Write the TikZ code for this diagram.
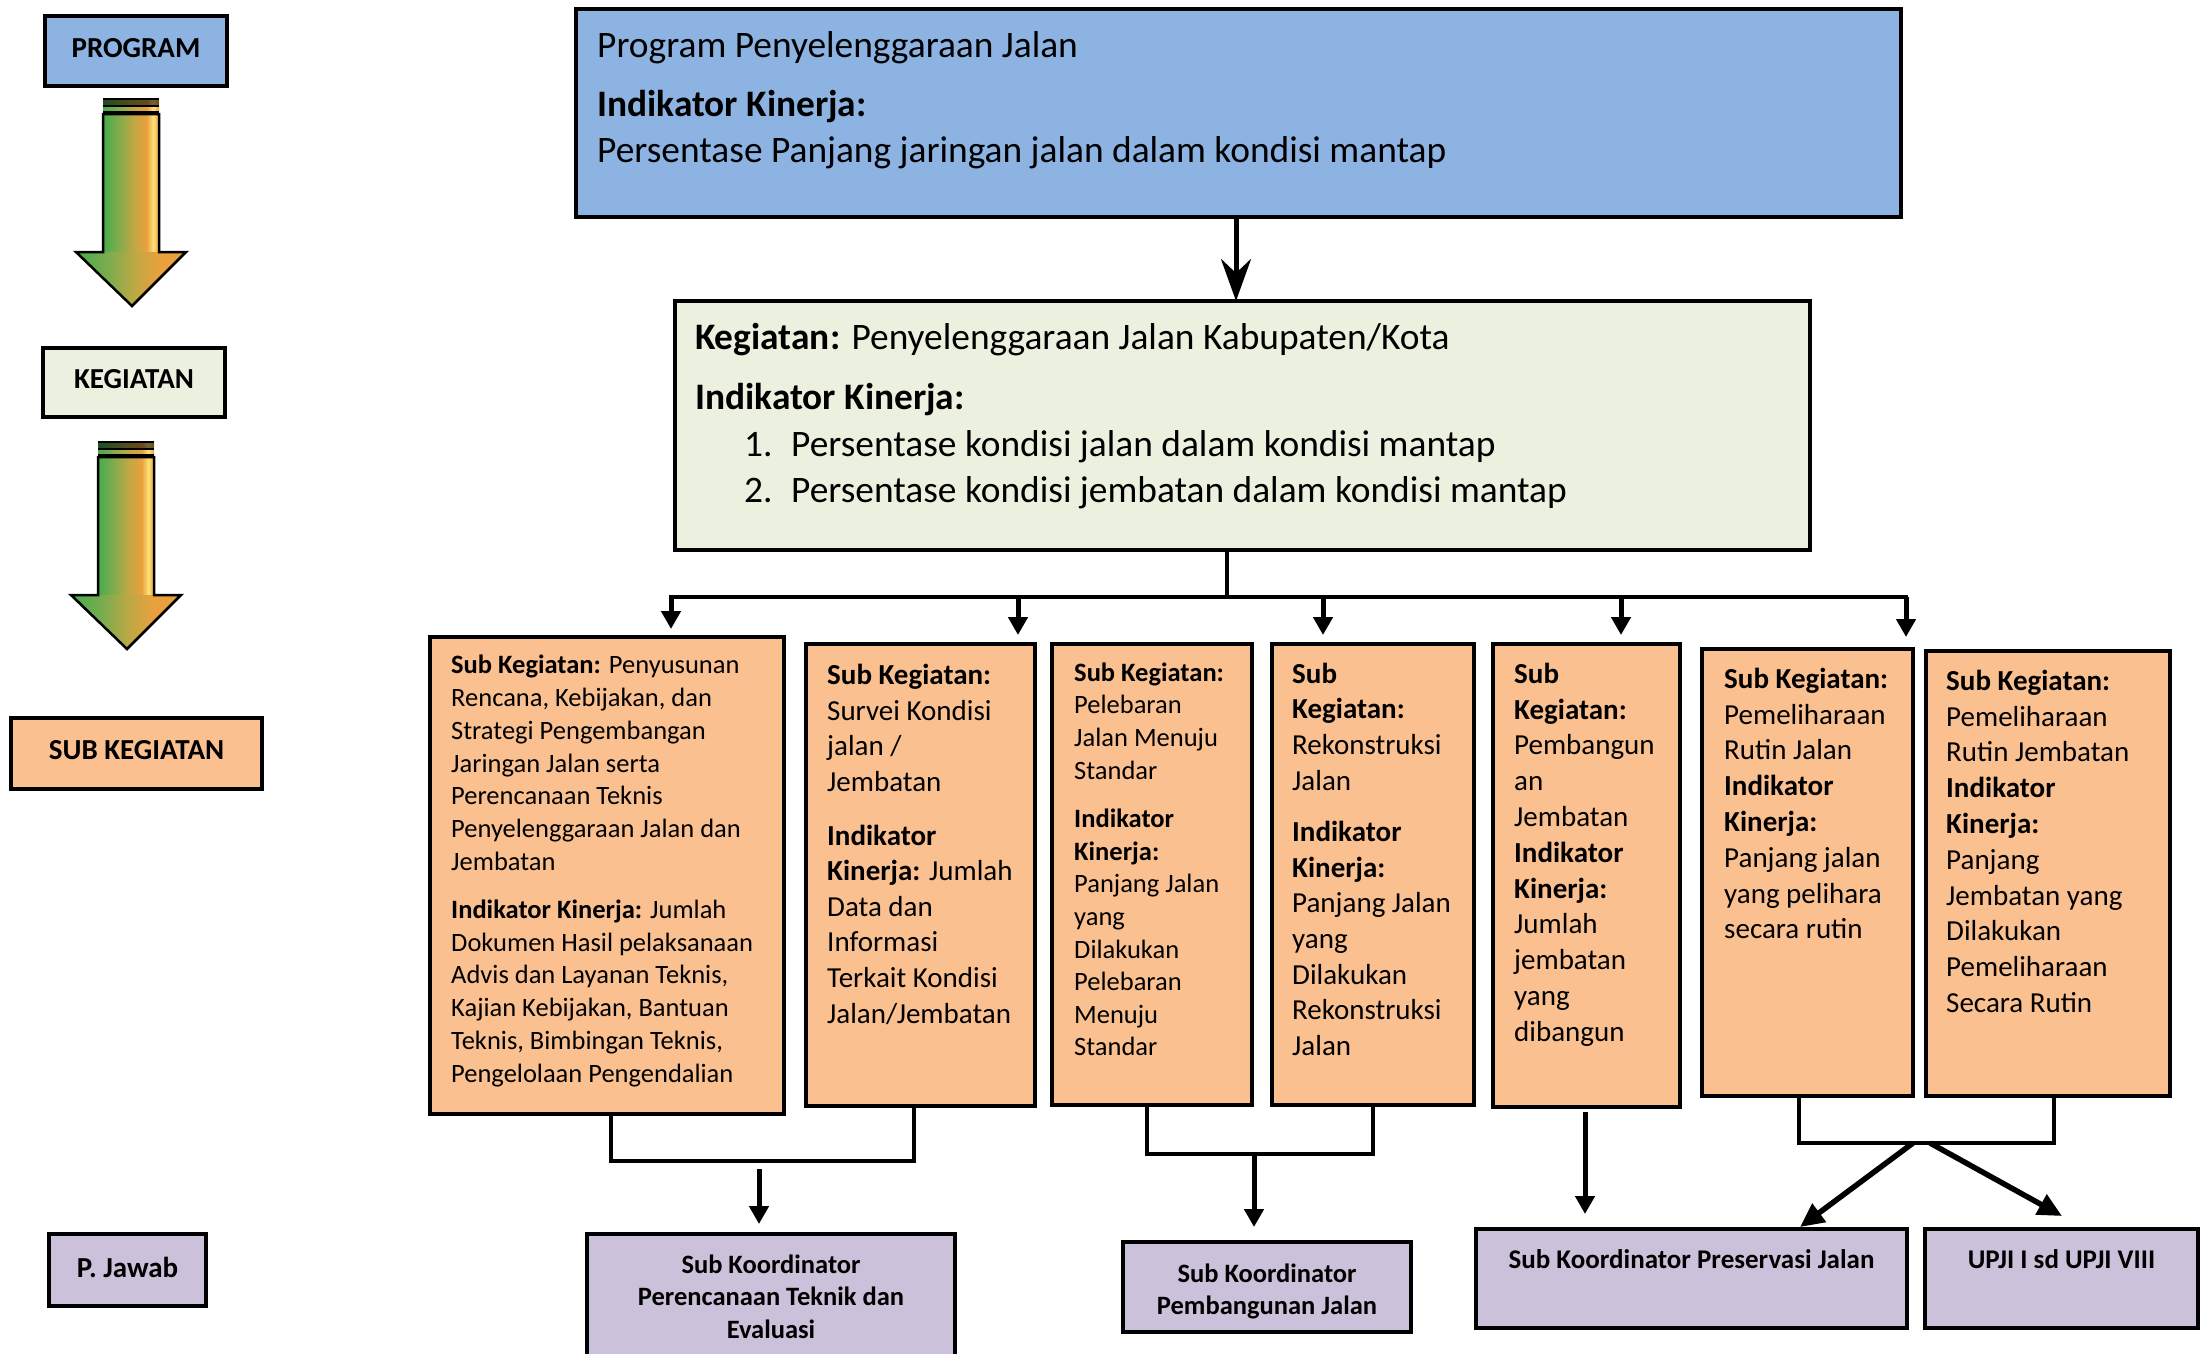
\documentclass[tikz,border=0pt]{standalone}
\usepackage{fontspec}
\setmainfont{Carlito}
\usetikzlibrary{arrows.meta}
\definecolor{progblue}{RGB}{141,179,226}
\definecolor{kegcream}{RGB}{235,241,222}
\definecolor{suborange}{RGB}{250,192,144}
\definecolor{pjpurple}{RGB}{204,193,218}
\definecolor{agA}{RGB}{70,172,75}
\definecolor{agB}{RGB}{125,172,78}
\definecolor{agC}{RGB}{192,168,68}
\definecolor{agD}{RGB}{234,160,60}
\definecolor{agE}{RGB}{255,226,122}
\pgfdeclarehorizontalshading{shaftshade}{100bp}{color(0bp)=(agA); color(25bp)=(agA); color(38bp)=(agB); color(52bp)=(agC); color(64bp)=(agD); color(70bp)=(agE); color(75bp)=(agD); color(100bp)=(agD)}
\pgfdeclarehorizontalshading{headshade}{100bp}{color(0bp)=(agA); color(25bp)=(agA); color(40bp)=(agB); color(52bp)=(agC); color(63bp)=(agD); color(75bp)=(agD); color(100bp)=(agD)}
\newcommand{\lift}[1]{\raisebox{3pt}[\height][\depth]{#1}}
\begin{document}
\begin{tikzpicture}[x=1pt,y=-1pt,
  box/.style={draw=black, line width=4.5pt, inner sep=0pt, outer sep=0pt},
  lbl/.style={font=\fontsize{29}{35}\selectfont\bfseries},
  txt/.style={anchor=north west, align=left, inner sep=0pt},
  conn/.style={line width=4.5pt},
  arr/.style={line width=5pt, -{Triangle[length=18pt,width=19pt]}},
  darr/.style={line width=5.5pt, -{Triangle[length=24pt,width=22pt]}},
  bigarr/.style={line width=5pt, -{Stealth[length=42pt,width=30pt,inset=14pt]}},
  gradarr/.pic={
    \shade[shading=shaftshade] (103,98) rectangle (159,114);
    \fill[black,opacity=0.55] (103,98) rectangle (159,105);
    \fill[black] (103,97.5) rectangle (159,100);
    \fill[black] (103,105) rectangle (159,107);
    \fill[black] (103,111) rectangle (159,114);
    \shade[shading=shaftshade] (103,114) rectangle (159,253);
    \shade[shading=headshade] (76,252) -- (186,252) -- (132,306) -- cycle;
    \draw[black, line width=2.5pt, line join=miter] (103,114) -- (159,114) -- (159,252) -- (186,252) -- (132,306) -- (76,252) -- (103,252) -- cycle;
  }]
\path[use as bounding box] (0,0) rectangle (2202,1353);
\clip (0,0) rectangle (2202,1353);

% ---------- left column ----------
\node[box, fill=progblue, minimum width=182pt, minimum height=70pt, lbl] (lprog) at (136,51) {\lift{PROGRAM}};
\node[box, fill=kegcream, minimum width=182pt, minimum height=69pt, lbl] (lkeg) at (134,382.5) {\lift{KEGIATAN}};
\node[box, fill=suborange, minimum width=251pt, minimum height=71pt, lbl] (lsub) at (136.5,753.5) {\lift{SUB KEGIATAN}};
\node[box, fill=pjpurple, minimum width=157pt, minimum height=72pt, lbl] (ljaw) at (127.5,1270) {\lift{P. Jawab}};
\pic at (0,0) {gradarr};
\pic at (-5,343) {gradarr};

% ---------- program ----------
\node[box, fill=progblue, minimum width=1325pt, minimum height=208pt] (prog) at (1238.5,113) {};
\node[txt, font=\fontsize{37.4}{45.5}\selectfont] (tprog) at (597,27.4)
  {\rule{0pt}{0.8em}Program Penyelenggaraan Jalan\\[13.5pt]
   \textbf{Indikator Kinerja:}\\
   Persentase Panjang jaringan jalan dalam kondisi mantap};

% ---------- kegiatan ----------
\node[box, fill=kegcream, minimum width=1135pt, minimum height=249pt] (keg) at (1242.5,425.5) {};
\node[txt, font=\fontsize{37.4}{45.5}\selectfont] (tkeg) at (695,319.4)
  {\rule{0pt}{0.8em}\textbf{Kegiatan:} Penyelenggaraan Jalan Kabupaten/Kota\\[14.5pt]
   \textbf{Indikator Kinerja:}\\[1.5pt]
   \hspace*{49pt}\makebox[47pt][l]{1.}Persentase kondisi jalan dalam kondisi mantap\\
   \hspace*{49pt}\makebox[47pt][l]{2.}Persentase kondisi jembatan dalam kondisi mantap};

% ---------- sub kegiatan boxes ----------
\node[box, fill=suborange, minimum width=354pt, minimum height=477pt] (b1) at (607,875.5) {};
\node[box, fill=suborange, minimum width=229pt, minimum height=462pt] (b2) at (920.5,875) {};
\node[box, fill=suborange, minimum width=200pt, minimum height=461pt] (b3) at (1152,874.5) {};
\node[box, fill=suborange, minimum width=202pt, minimum height=461pt] (b4) at (1373,874.5) {};
\node[box, fill=suborange, minimum width=187pt, minimum height=463pt] (b5) at (1586.5,875.5) {};
\node[box, fill=suborange, minimum width=211pt, minimum height=447pt] (b6) at (1807.5,872.5) {};
\node[box, fill=suborange, minimum width=244pt, minimum height=445pt] (b7) at (2048,873.5) {};

\node[txt, font=\fontsize{26.5}{32.8}\selectfont] (t1) at (451,652.3)
  {\rule{0pt}{0.8em}\textbf{Sub Kegiatan:} Penyusunan\\
   Rencana, Kebijakan, dan\\
   Strategi Pengembangan\\
   Jaringan Jalan serta\\
   Perencanaan Teknis\\
   Penyelenggaraan Jalan dan\\
   Jembatan\\[15pt]
   \textbf{Indikator Kinerja:} Jumlah\\
   Dokumen Hasil pelaksanaan\\
   Advis dan Layanan Teknis,\\
   Kajian Kebijakan, Bantuan\\
   Teknis, Bimbingan Teknis,\\
   Pengelolaan Pengendalian};

\node[txt, font=\fontsize{29}{35.6}\selectfont] (t2) at (827,661.3)
  {\rule{0pt}{0.8em}\textbf{Sub Kegiatan:}\\
   Survei Kondisi\\
   jalan /\\
   Jembatan\\[18pt]
   \textbf{Indikator}\\
   \textbf{Kinerja:} Jumlah\\
   Data dan\\
   Informasi\\
   Terkait Kondisi\\
   Jalan/Jembatan};

\node[txt, font=\fontsize{26.5}{32.6}\selectfont] (t3) at (1074,659.8)
  {\rule{0pt}{0.8em}\textbf{Sub Kegiatan:}\\
   Pelebaran\\
   Jalan Menuju\\
   Standar\\[16pt]
   \textbf{Indikator}\\
   \textbf{Kinerja:}\\
   Panjang Jalan\\
   yang\\
   Dilakukan\\
   Pelebaran\\
   Menuju\\
   Standar};

\node[txt, font=\fontsize{29}{35.6}\selectfont] (t4) at (1292,659.8)
  {\rule{0pt}{0.8em}\textbf{Sub}\\
   \textbf{Kegiatan:}\\
   Rekonstruksi\\
   Jalan\\[16pt]
   \textbf{Indikator}\\
   \textbf{Kinerja:}\\
   Panjang Jalan\\
   yang\\
   Dilakukan\\
   Rekonstruksi\\
   Jalan};

\node[txt, font=\fontsize{29}{35.8}\selectfont] (t5) at (1514,659.8)
  {\rule{0pt}{0.8em}\textbf{Sub}\\
   \textbf{Kegiatan:}\\
   Pembangun\\
   an\\
   Jembatan\\
   \textbf{Indikator}\\
   \textbf{Kinerja:}\\
   Jumlah\\
   jembatan\\
   yang\\
   dibangun};

\node[txt, font=\fontsize{29}{35.8}\selectfont] (t6) at (1724,664.8)
  {\rule{0pt}{0.8em}\textbf{Sub Kegiatan:}\\
   Pemeliharaan\\
   Rutin Jalan\\
   \textbf{Indikator}\\
   \textbf{Kinerja:}\\
   Panjang jalan\\
   yang pelihara\\
   secara rutin};

\node[txt, font=\fontsize{29}{35.8}\selectfont] (t7) at (1946,666.8)
  {\rule{0pt}{0.8em}\textbf{Sub Kegiatan:}\\
   Pemeliharaan\\
   Rutin Jembatan\\
   \textbf{Indikator}\\
   \textbf{Kinerja:}\\
   Panjang\\
   Jembatan yang\\
   Dilakukan\\
   Pemeliharaan\\
   Secara Rutin};

% ---------- penanggung jawab boxes ----------
\node[box, fill=pjpurple, minimum width=368pt, minimum height=144pt] (p1) at (771,1306) {};
\node[box, fill=pjpurple, minimum width=288pt, minimum height=90pt] (p2) at (1267,1287) {};
\node[box, fill=pjpurple, minimum width=431pt, minimum height=99pt] (p3) at (1691.5,1278.5) {};
\node[box, fill=pjpurple, minimum width=273pt, minimum height=99pt] (p4) at (2061.5,1278.5) {};

\node[anchor=north, align=center, inner sep=0pt, font=\fontsize{26.5}{32.5}\selectfont\bfseries] (tp1) at (771,1251.8)
  {\rule{0pt}{0.8em}Sub Koordinator\\Perencanaan Teknik dan\\Evaluasi};
\node[anchor=north, align=center, inner sep=0pt, font=\fontsize{26.5}{32}\selectfont\bfseries] (tp2) at (1267,1260.8)
  {\rule{0pt}{0.8em}Sub Koordinator\\Pembangunan Jalan};
\node[anchor=base, inner sep=0pt, font=\fontsize{27}{32}\selectfont\bfseries] (tp3) at (1691.5,1268) {Sub Koordinator Preservasi Jalan};
\node[anchor=base, inner sep=0pt, font=\fontsize{27}{32}\selectfont\bfseries] (tp4) at (2061.5,1268) {UPJI I sd UPJI VIII};

% ---------- connectors ----------
\draw[bigarr] (prog.south -| 1236,0) -- (keg.north -| 1236,0);

\coordinate (bar) at (1227,597);
\coordinate (barL) at (671,597);
\coordinate (barR) at (1906,597);
\coordinate (a2) at (1018,597);
\coordinate (a4) at (1323,597);
\coordinate (a5) at (1621,597);
\draw[conn] (bar |- keg.south) -- (bar);
\draw[conn, line cap=rect] (barL) -- (barR);
\draw[arr, shorten >=8pt] (barL) -- (barL |- b1.north);
\draw[arr, shorten >=9pt] (a2) -- (a2 |- b2.north);
\draw[arr, shorten >=9pt] (a4) -- (a4 |- b4.north);
\draw[arr, shorten >=9pt] (a5) -- (a5 |- b5.north);
\draw[arr, shorten >=12pt] (barR) -- (barR |- b6.north);

% bracket b1-b2
\coordinate (k1a) at (611,1161);
\coordinate (k1b) at (914,1161);
\coordinate (k1m) at (759,1169);
\draw[conn, line join=miter] (k1a |- b1.south) -- (k1a) -- (k1b) -- (k1b |- b2.south);
\draw[arr, shorten >=10pt] (k1m) -- (k1m |- p1.north);

% bracket b3-b4
\coordinate (k2a) at (1147,1154);
\coordinate (k2b) at (1373,1154);
\coordinate (k2m) at (1254,1154);
\draw[conn, line join=miter] (k2a |- b3.south) -- (k2a) -- (k2b) -- (k2b |- b4.south);
\draw[arr, shorten >=15pt] (k2m) -- (k2m |- p2.north);

% b5
\coordinate (k3) at (1585,1112);
\draw[arr, shorten >=15pt] (k3) -- (k3 |- p3.north);

% bracket b6-b7
\coordinate (k4a) at (1799,1143);
\coordinate (k4b) at (2054,1143);
\coordinate (k4l) at (1913,1143);
\coordinate (k4r) at (1930,1143);
\coordinate (p3t) at (1800,1227);
\coordinate (p4t) at (2062,1216);
\draw[conn, line join=miter] (k4a |- b6.south) -- (k4a) -- (k4b) -- (k4b |- b7.south);
\draw[darr] (k4l) -- (p3t);
\draw[darr] (k4r) -- (p4t);
\end{tikzpicture}
\end{document}
